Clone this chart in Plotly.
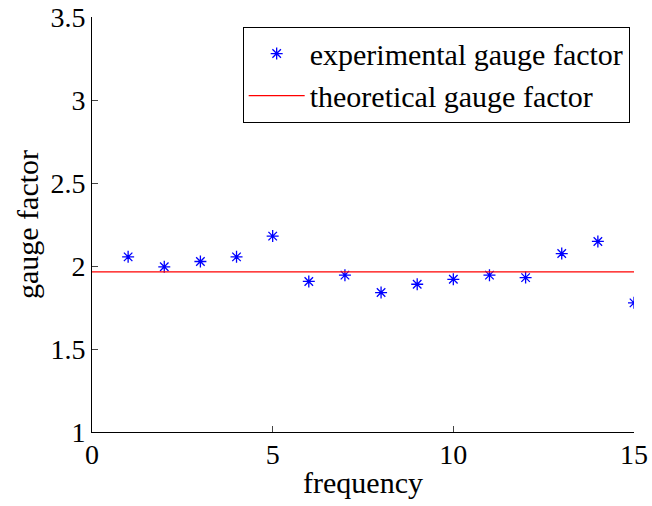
import plotly.graph_objects as go

frequency = list(range(1, 16))
experimental_gf = [2.055, 1.995, 2.027, 2.055, 2.18, 1.907, 1.945, 1.84, 1.89,
                   1.92, 1.945, 1.93, 2.075, 2.148, 1.778]
theoretical_x = [0, 15]
theoretical_gf = [1.965, 1.965]

x_ticks = [0, 5, 10, 15]
y_ticks = [1, 1.5, 2, 2.5, 3, 3.5]
y_ticktext = ["1", "1.5", "2", "2.5", "3", "3.5"]

FONT = "Liberation Serif, Times New Roman, serif"
FS_TICK = 28
FS_TEXT = 30

fig = go.Figure()
fig.add_trace(go.Scatter(
    x=frequency, y=experimental_gf, mode="markers",
    name="experimental gauge factor",
    marker=dict(symbol="asterisk-open", size=10, color="blue",
                line=dict(color="blue", width=1.3)),
))
fig.add_trace(go.Scatter(
    x=theoretical_x, y=theoretical_gf, mode="lines",
    name="theoretical gauge factor",
    line=dict(color="red", width=1.2),
))

fig.update_layout(
    width=652, height=506,
    margin=dict(l=92, r=18, t=17, b=74),
    paper_bgcolor="white", plot_bgcolor="white",
    font=dict(family=FONT, size=FS_TEXT, color="black"),
    showlegend=True,
    legend=dict(
        x=0.278, y=0.977, xanchor="left", yanchor="top",
        bgcolor="white", bordercolor="black", borderwidth=1,
        font=dict(family=FONT, size=FS_TEXT, color="black"),
        itemwidth=56, tracegroupgap=0,
    ),
    xaxis=dict(
        range=[0, 15], tickvals=x_ticks, ticks="inside", ticklen=6,
        showline=True, linecolor="black", linewidth=1, mirror=False,
        showgrid=False, zeroline=False, automargin=False,
        ticklabelstandoff=-3,
        tickfont=dict(family=FONT, size=FS_TICK),
        title=dict(text="frequency", font=dict(family=FONT, size=FS_TEXT), standoff=3),
    ),
    yaxis=dict(
        range=[1, 3.5], tickvals=y_ticks, ticktext=y_ticktext,
        ticks="inside", ticklen=6,
        showline=True, linecolor="black", linewidth=1, mirror=False,
        showgrid=False, zeroline=False, automargin=False,
        tickfont=dict(family=FONT, size=FS_TICK),
        title=dict(text="gauge factor", font=dict(family=FONT, size=FS_TEXT), standoff=2),
    ),
)

fig.write_html("out.html")
